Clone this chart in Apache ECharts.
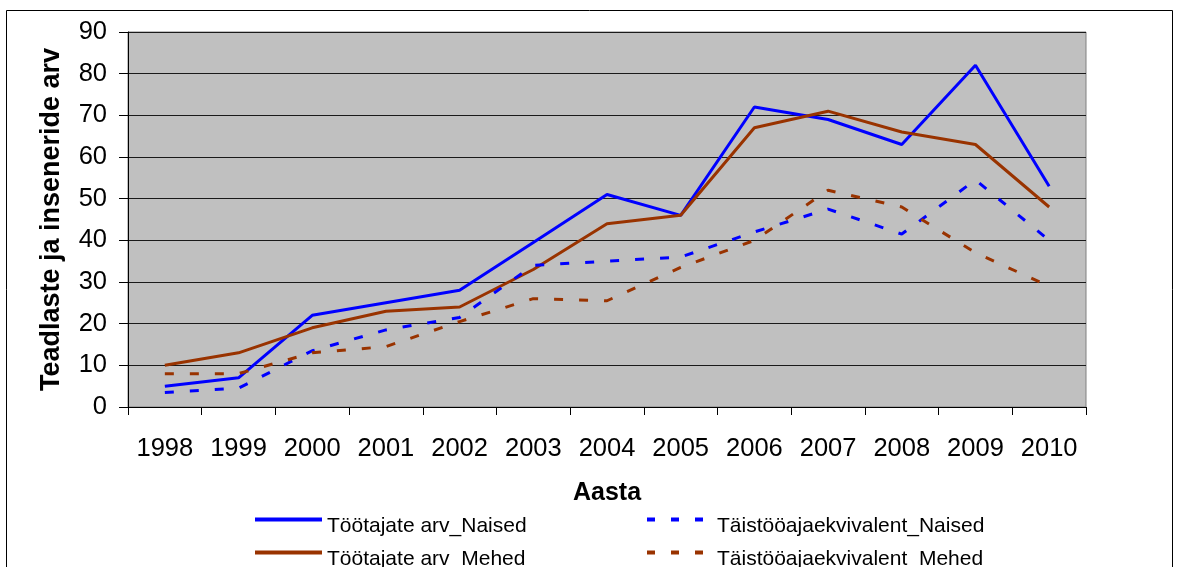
<!DOCTYPE html>
<html><head><meta charset="utf-8">
<script src="https://cdn.jsdelivr.net/npm/echarts@6/dist/echarts.min.js"></script>
<style>html,body{margin:0;padding:0;background:#fff}#c{width:1182px;height:567px}</style>
</head><body><div id="c"></div>
<script>
const years = ['1998','1999','2000','2001','2002','2003','2004','2005','2006','2007','2008','2009','2010'];
const tootajadNaised = [5, 7, 22, 25, 28, 39.5, 51, 46, 72, 69, 63, 82, 53];
const tootajadMehed = [10, 13, 19, 23, 24, 33, 44, 46, 67, 71, 66, 63, 48];
const taisNaised = [3.5, 4.5, 13.5, 18.5, 21.5, 34, 35, 36, 42, 47.5, 41.5, 54.5, 40];
const taisMehed = [8, 8, 13, 14.5, 20.5, 26, 25.5, 33.5, 40, 52, 48, 37, 29];
const seriesNames = ['Töötajate arv_Naised','Töötajate arv_Mehed','Täistööajaekvivalent_Naised','Täistööajaekvivalent_Mehed'];
const yTitle = 'Teadlaste ja inseneride arv';
const xTitle = 'Aasta';

const F = 'Liberation Sans, Arial, sans-serif';
const chart = echarts.init(document.getElementById('c'));
const mk = (name, data, color, dashed) => ({
  name, type: 'line', data, symbol: 'none', smooth: false,
  lineStyle: {color, width: 3, type: dashed ? [9, 16] : 'solid', cap: 'butt'},
  itemStyle: {color}
});
const squares = 'path://M0,0h8v4h-8zM24,0h8v4h-8zM48,0h8v4h-8z';
const leg = (name, left, top, dashed) => ({
  data: [name], left, top, padding: 0, selectedMode: false,
  icon: dashed ? squares : 'rect', itemWidth: dashed ? 56 : 67, itemHeight: 4,
  formatter: '{t|{name}}',
  textStyle: {fontFamily: F, fontSize: 21, color: '#000',
    rich: {t: {fontFamily: F, fontSize: 21, color: '#000', padding: [14, 0, 0, dashed ? 9 : 0]}}}
});
chart.setOption({
  animation: false,
  graphic: [{type: 'rect', shape: {x: 6.5, y: 10.5, width: 1166, height: 600}, style: {fill: 'none', stroke: '#000', lineWidth: 1}, z: -10}],
  grid: {left: 128, right: 96, top: 32, bottom: 160, show: true, backgroundColor: '#c0c0c0', borderColor: '#808080', borderWidth: 1},
  xAxis: {
    type: 'category', data: years, boundaryGap: true,
    name: xTitle, nameLocation: 'middle', nameGap: 74,
    nameTextStyle: {fontFamily: F, fontSize: 25, fontWeight: 'bold', color: '#000', verticalAlign: 'top'},
    axisLine: {lineStyle: {color: '#000', width: 1}},
    axisTick: {show: true, length: 8, lineStyle: {color: '#000'}},
    axisLabel: {fontFamily: F, fontSize: 25.5, color: '#000', margin: 29, interval: 0},
    splitLine: {show: false}
  },
  yAxis: {
    type: 'value', min: 0, max: 90, interval: 10,
    name: yTitle, nameLocation: 'middle', nameGap: 63, nameRotate: 90,
    nameTextStyle: {fontFamily: F, fontSize: 27, fontWeight: 'bold', color: '#000'},
    axisLine: {show: true, lineStyle: {color: '#000', width: 1}},
    axisTick: {show: true, length: 9, lineStyle: {color: '#000'}},
    axisLabel: {fontFamily: F, fontSize: 25.5, color: '#000', margin: 21},
    splitLine: {show: true, lineStyle: {color: '#1a1a1a', width: 1}}
  },
  legend: [
    leg(seriesNames[0], 255, 516, false),
    leg(seriesNames[1], 255, 549, false),
    leg(seriesNames[2], 647, 516, true),
    leg(seriesNames[3], 647, 549, true)
  ],
  series: [
    mk(seriesNames[0], tootajadNaised, '#0000ff', false),
    mk(seriesNames[1], tootajadMehed, '#993300', false),
    mk(seriesNames[2], taisNaised, '#0000ff', true),
    mk(seriesNames[3], taisMehed, '#993300', true)
  ]
});
</script></body></html>
